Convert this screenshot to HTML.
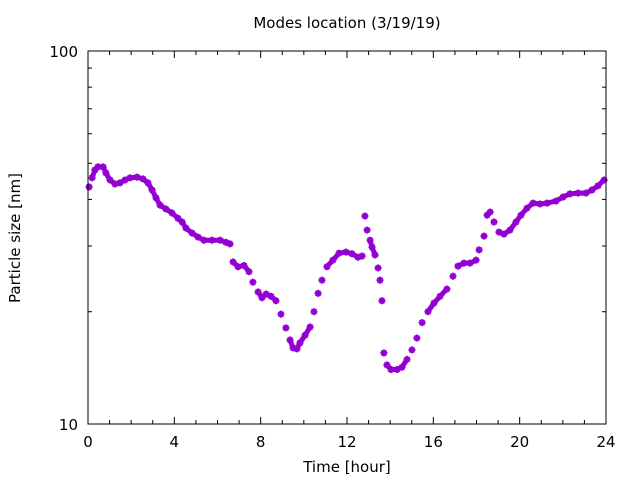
<!DOCTYPE html>
<html><head><meta charset="utf-8"><style>
body{margin:0;background:#fff;}
svg text{font-family:"DejaVu Sans","Liberation Sans",sans-serif;font-size:15px;fill:#000;}
</style></head><body>
<svg id="chart" width="640" height="480" xmlns="http://www.w3.org/2000/svg">
<rect width="640" height="480" fill="#fff"/>
<text x="347" y="28" text-anchor="middle">Modes location (3/19/19)</text>
<text x="347" y="472" text-anchor="middle">Time [hour]</text>
<text transform="translate(20,238) rotate(-90)" text-anchor="middle">Particle size [nm]</text>
<g id="ticks"></g>
<g id="series"></g>
<rect x="88" y="51" width="518" height="373" fill="none" stroke="#000" stroke-width="1"/>
</svg>
<script>
const hours=[0.05,0.19,0.32,0.46,0.70,0.83,1.02,1.25,1.48,1.71,1.95,2.27,2.55,2.78,2.97,3.15,3.34,3.61,3.89,4.17,4.36,4.54,4.82,5.10,5.37,5.75,6.12,6.39,6.58,6.72,6.95,7.23,7.46,7.64,7.88,8.06,8.25,8.48,8.71,8.94,9.17,9.36,9.50,9.68,9.82,10.06,10.29,10.47,10.66,10.84,11.07,11.35,11.63,11.95,12.23,12.51,12.70,12.83,12.93,13.07,13.16,13.30,13.44,13.53,13.62,13.71,13.85,14.04,14.32,14.55,14.78,15.01,15.24,15.48,15.75,16.03,16.31,16.63,16.91,17.14,17.42,17.70,17.98,18.12,18.35,18.49,18.63,18.81,19.04,19.27,19.55,19.83,20.06,20.34,20.62,20.94,21.27,21.68,22.01,22.33,22.70,23.07,23.35,23.63,23.91];
const sizes=[43.2,45.7,48.0,48.9,48.9,47.1,45.1,44.0,44.3,45.1,45.7,45.9,45.4,44.3,42.4,40.4,38.6,37.7,36.8,35.6,34.8,33.5,32.5,31.7,31.1,31.1,31.1,30.7,30.4,27.2,26.4,26.6,25.6,24.0,22.6,21.8,22.3,22.0,21.4,19.7,18.1,16.8,16.0,15.9,16.5,17.3,18.2,20.0,22.4,24.3,26.4,27.5,28.7,28.9,28.6,28.0,28.2,36.1,33.1,31.1,29.8,28.4,26.2,24.3,21.4,15.5,14.4,14.0,14.0,14.2,14.9,15.8,17.0,18.7,20.0,21.1,22.0,23.0,24.9,26.5,27.0,27.0,27.5,29.3,31.9,36.3,37.0,34.8,32.7,32.3,33.1,34.8,36.3,37.9,39.1,38.9,39.1,39.6,40.6,41.4,41.6,41.6,42.4,43.5,45.1];
const xTickLabels=["0","4","8","12","16","20","24"];
const yTickLabels=["10","100"];
const NS="http://www.w3.org/2000/svg";
const X0=88,X1=606,Y0=424,Y1=51;
function xs(h){return X0+(h/24)*(X1-X0);}
function ys(v){return Y0-(Math.log10(v)-1)*(Y0-Y1);}
const tg=document.getElementById('ticks');
function ln(x1,y1,x2,y2,g){const l=document.createElementNS(NS,'line');l.setAttribute('x1',x1);l.setAttribute('y1',y1);l.setAttribute('x2',x2);l.setAttribute('y2',y2);l.setAttribute('stroke','#000');g.appendChild(l);return l;}
for(let h=0;h<=24;h++){const x=xs(h);const L=h%4===0?7:4;
const a=ln(x,Y0,x,Y0-L,tg);


const b=ln(x,Y1,x,Y1+L,tg);

}
xTickLabels.forEach(s=>{const t=document.createElementNS(NS,'text');t.setAttribute('x',xs(+s));t.setAttribute('y',447);t.setAttribute('text-anchor','middle');t.textContent=s;


tg.appendChild(t);});
for(let v=10;v<=100;v+=10){const y=ys(v);const L=(v===10||v===100)?7:4;
const a=ln(X0,y,X0+L,y,tg);


const b=ln(X1,y,X1-L,y,tg);

}
yTickLabels.forEach(s=>{const t=document.createElementNS(NS,'text');t.setAttribute('x',78);t.setAttribute('y',ys(+s)+6);t.setAttribute('text-anchor','end');t.textContent=s;


tg.appendChild(t);});
const sg=document.getElementById('series');
const C='#9400d3';
// segments: break where vertical jump is large (isolated points in reference)
let seg=[];
function flush(){if(seg.length>1){const pl=document.createElementNS(NS,'polyline');
pl.setAttribute('points',seg.map(p=>p[0]+','+p[1]).join(' '));
pl.setAttribute('fill','none');pl.setAttribute('stroke',C);pl.setAttribute('stroke-width','5');pl.setAttribute('stroke-linejoin','round');


sg.appendChild(pl);}seg=[];}
hours.forEach((h,i)=>{const p=[xs(h),ys(sizes[i])];
if(seg.length){const q=seg[seg.length-1];if(Math.abs(p[1]-q[1])>9)flush();}
seg.push(p);});
flush();
hours.forEach((h,i)=>{const x=xs(h),y=ys(sizes[i]);const g=document.createElementNS(NS,'g');


[[x-3.5,y,x+3.5,y],[x,y-3.5,x,y+3.5],[x-2.5,y-2.5,x+2.5,y+2.5],[x-2.5,y+2.5,x+2.5,y-2.5]].forEach(c=>{const l=ln(c[0],c[1],c[2],c[3],g);l.setAttribute('stroke',C);l.setAttribute('stroke-width','2');});
sg.appendChild(g);});
</script>
</body></html>
